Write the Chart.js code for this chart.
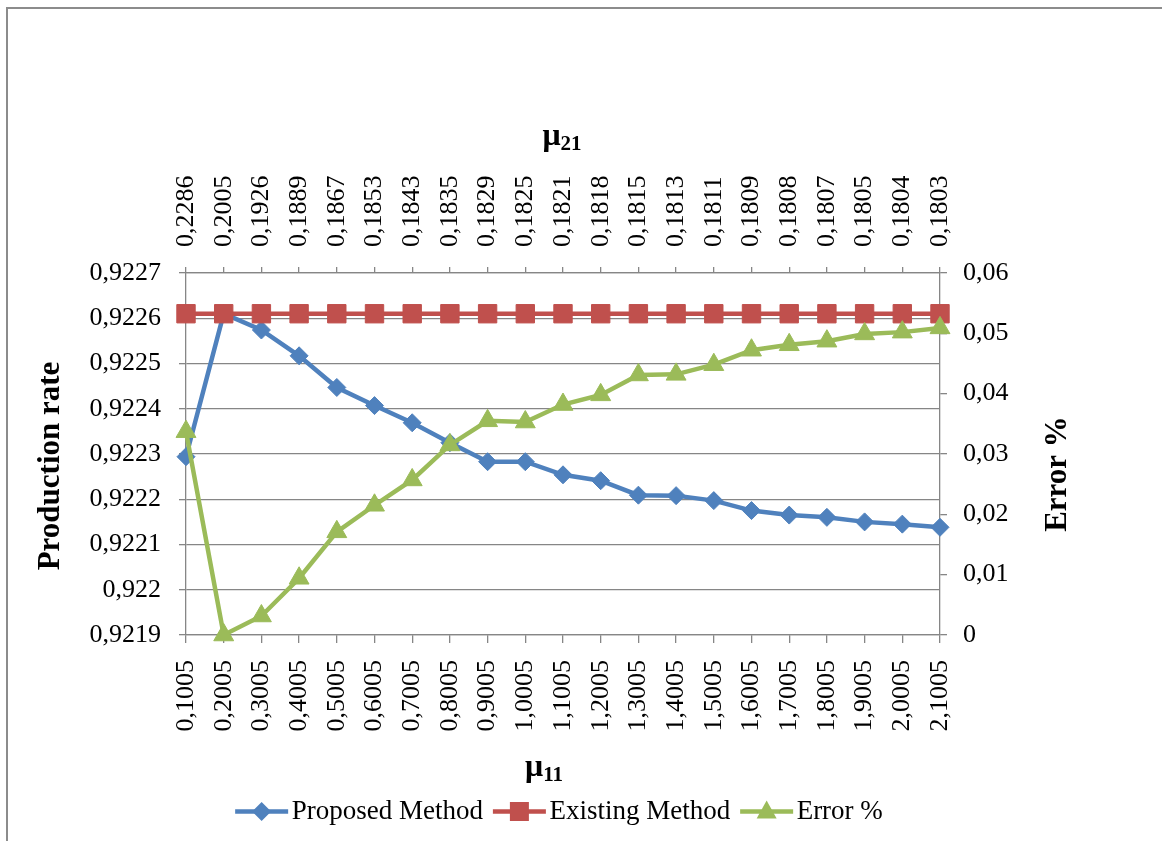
<!DOCTYPE html>
<html>
<head>
<meta charset="utf-8">
<script src="https://cdn.jsdelivr.net/npm/chart.js@4.4.1/dist/chart.umd.min.js"></script>
<style>
  html, body { margin: 0; padding: 0; background: #fff; overflow: hidden; }
  #frame { position: absolute; left: 6px; top: 7px; width: 1200px; height: 900px; border: 2px solid #8c8c8c; }
  #wrap { position: absolute; left: 0; top: 0; width: 1162px; height: 841px; }
</style>
</head>
<body>
<div id="frame"></div>
<div id="wrap"><canvas id="chart" width="1162" height="841"></canvas></div>
<script>
// ---------------- data ----------------
const mu11Labels = ['0,1005','0,2005','0,3005','0,4005','0,5005','0,6005','0,7005','0,8005','0,9005','1,0005',
  '1,1005','1,2005','1,3005','1,4005','1,5005','1,6005','1,7005','1,8005','1,9005','2,0005','2,1005'];
const mu21Labels = ['0,2286','0,2005','0,1926','0,1889','0,1867','0,1853','0,1843','0,1835','0,1829','0,1825',
  '0,1821','0,1818','0,1815','0,1813','0,1811','0,1809','0,1808','0,1807','0,1805','0,1804','0,1803'];

const proposed = [0.922294, 0.92261, 0.922574, 0.922517, 0.922447, 0.922407, 0.922369, 0.922325, 0.922283, 0.922283,
  0.922254, 0.922241, 0.922209, 0.922208, 0.922197, 0.922175, 0.922165, 0.92216, 0.92215, 0.922145, 0.922138];
const existing = [0.92261, 0.92261, 0.92261, 0.92261, 0.92261, 0.92261, 0.92261, 0.92261, 0.92261, 0.92261,
  0.92261, 0.92261, 0.92261, 0.92261, 0.92261, 0.92261, 0.92261, 0.92261, 0.92261, 0.92261, 0.92261];
const errorPct = [0.0337, 0, 0.00315, 0.0094, 0.0171, 0.0215, 0.0257, 0.0315, 0.0355, 0.0353,
  0.0382, 0.0398, 0.0431, 0.0432, 0.0448, 0.0472, 0.0481, 0.0487, 0.0499, 0.0502, 0.0509];

const BLUE = '#4F81BD', RED = '#C0504D', GREEN = '#9BBB59', AXIS = '#868686';
const SERIF = "'Liberation Serif', 'Times New Roman', serif";

// comma decimal like the original
const fmt = (v, d) => Number(v.toFixed(d)).toString().replace('.', ',');

// ---------------- helpers ----------------
function drawMarker(ctx, style, color, x, y) {
  ctx.save();
  ctx.fillStyle = color;
  ctx.beginPath();
  if (style === 'rectRot') {
    const r = 9.5;
    ctx.moveTo(x - r, y); ctx.lineTo(x, y - r); ctx.lineTo(x + r, y); ctx.lineTo(x, y + r);
  } else if (style === 'rect') {
    ctx.rect(x - 9.5, y - 9.5, 19, 19);
  } else {
    ctx.moveTo(x, y - 11); ctx.lineTo(x + 10, y + 7); ctx.lineTo(x - 10, y + 7);
  }
  ctx.closePath();
  ctx.fill();
  ctx.restore();
}

function drawSubTitle(ctx, base, sub, cx, y) {
  const big = 'bold 32px ' + SERIF, small = 'bold 21px ' + SERIF;
  ctx.font = big; const w1 = ctx.measureText(base).width;
  ctx.font = small; const w2 = ctx.measureText(sub).width;
  const x = cx - (w1 + w2) / 2;
  ctx.textAlign = 'left'; ctx.textBaseline = 'alphabetic';
  ctx.font = big; ctx.fillText(base, x, y);
  ctx.font = small; ctx.fillText(sub, x + w1, y + 5);
}

function drawVertTitle(ctx, text, cx, cy) {
  ctx.save();
  ctx.translate(cx, cy);
  ctx.rotate(-Math.PI / 2);
  ctx.font = 'bold 31px ' + SERIF;
  ctx.textAlign = 'center'; ctx.textBaseline = 'middle';
  ctx.fillText(text, 0, 0);
  ctx.restore();
}

// axis titles + legend line/marker symbols
const decorPlugin = {
  id: 'decor',
  afterLayout(chart) {
    chart.legend.left -= 22;
    chart.legend.right -= 22;
  },
  afterDraw(chart) {
    const ctx = chart.ctx;
    ctx.save();
    ctx.fillStyle = '#000';
    drawSubTitle(ctx, 'μ', '21', 562, 145);
    drawSubTitle(ctx, 'μ', '11', 544, 776);
    drawVertTitle(ctx, 'Production rate', 51, 466);
    drawVertTitle(ctx, 'Error %', 1058, 474);
    ctx.restore();

    const boxes = chart.legend.legendHitBoxes || [];
    const items = chart.legend.legendItems || [];
    boxes.forEach((hb, i) => {
      const ds = chart.data.datasets[items[i].datasetIndex];
      const y = hb.top + 13.5;
      ctx.save();
      ctx.strokeStyle = ds.borderColor;
      ctx.lineWidth = 4.5;
      ctx.beginPath();
      ctx.moveTo(hb.left, y);
      ctx.lineTo(hb.left + 53, y);
      ctx.stroke();
      ctx.restore();
      drawMarker(ctx, ds.pointStyle, ds.borderColor, hb.left + 26.5, y);
    });
  }
};

// ---------------- chart ----------------
const tickFont = { family: SERIF, size: 26 };

new Chart(document.getElementById('chart').getContext('2d'), {
  type: 'line',
  data: {
    labels: mu11Labels,
    datasets: [
      { label: 'Proposed Method', data: proposed, yAxisID: 'y', order: 2,
        borderColor: BLUE, backgroundColor: BLUE, borderWidth: 4.5,
        pointStyle: 'rectRot', pointRadius: 9, pointBorderWidth: 1, pointBackgroundColor: BLUE, clip: false },
      { label: 'Existing Method', data: existing, yAxisID: 'y', order: 1,
        borderColor: RED, backgroundColor: RED, borderWidth: 4.5,
        pointStyle: 'rect', pointRadius: 13, pointBorderWidth: 1, pointBackgroundColor: RED, clip: false },
      { label: 'Error %', data: errorPct, yAxisID: 'y2', order: 0,
        borderColor: GREEN, backgroundColor: GREEN, borderWidth: 4.5,
        pointStyle: 'triangle', pointRadius: 11.5, pointBorderWidth: 1, pointBackgroundColor: GREEN, clip: false }
    ]
  },
  options: {
    responsive: false,
    animation: false,
    devicePixelRatio: 1,
    events: [],
    layout: { padding: { left: 0, right: 0, top: 0, bottom: 6 } },
    plugins: {
      tooltip: { enabled: false },
      legend: {
        position: 'bottom',
        labels: {
          font: { family: SERIF, size: 27 },
          color: '#000',
          boxWidth: 43,
          boxHeight: 5,
          padding: 10,
          sort: (a, b) => a.datasetIndex - b.datasetIndex,
          generateLabels: (chart) => chart.data.datasets.map((ds, i) => ({
            text: ds.label, datasetIndex: i, hidden: false,
            fillStyle: 'rgba(0,0,0,0)', strokeStyle: 'rgba(0,0,0,0)', lineWidth: 0, fontColor: '#000'
          }))
        }
      }
    },
    scales: {
      x: {
        type: 'category',
        position: 'bottom',
        offset: false,
        afterFit: (s) => { s.height = 153; },
        grid: { drawOnChartArea: false, color: AXIS, lineWidth: 1.3, tickLength: 8 },
        border: { color: AXIS, width: 1.3 },
        ticks: { font: tickFont, color: '#000', minRotation: 90, maxRotation: 90, autoSkip: false, padding: 17 }
      },
      x2: {
        type: 'category',
        position: 'top',
        labels: mu21Labels,
        offset: false,
        afterFit: (s) => { s.height = 273; },
        grid: { drawOnChartArea: false, color: AXIS, lineWidth: 1.3, tickLength: 6 },
        border: { color: AXIS, width: 1.3 },
        ticks: { font: tickFont, color: '#000', minRotation: 90, maxRotation: 90, autoSkip: false, padding: 20, labelOffset: 31.2 }
      },
      y: {
        position: 'left',
        min: 0.9219,
        max: 0.9227,
        afterFit: (s) => { s.width = 186; },
        grid: { color: AXIS, lineWidth: 1.3, tickLength: 7 },
        border: { color: AXIS, width: 1.3 },
        ticks: { font: tickFont, color: '#000', stepSize: 0.0001, padding: 18, callback: (v) => fmt(v, 4) }
      },
      y2: {
        position: 'right',
        min: 0,
        max: 0.06,
        afterFit: (s) => { s.width = 222; },
        grid: { drawOnChartArea: false, color: AXIS, lineWidth: 1.3, tickLength: 7 },
        border: { color: AXIS, width: 1.3 },
        ticks: { font: tickFont, color: '#000', stepSize: 0.01, padding: 16, callback: (v) => fmt(v, 2) }
      }
    }
  },
  plugins: [decorPlugin]
});
</script>
</body>
</html>
